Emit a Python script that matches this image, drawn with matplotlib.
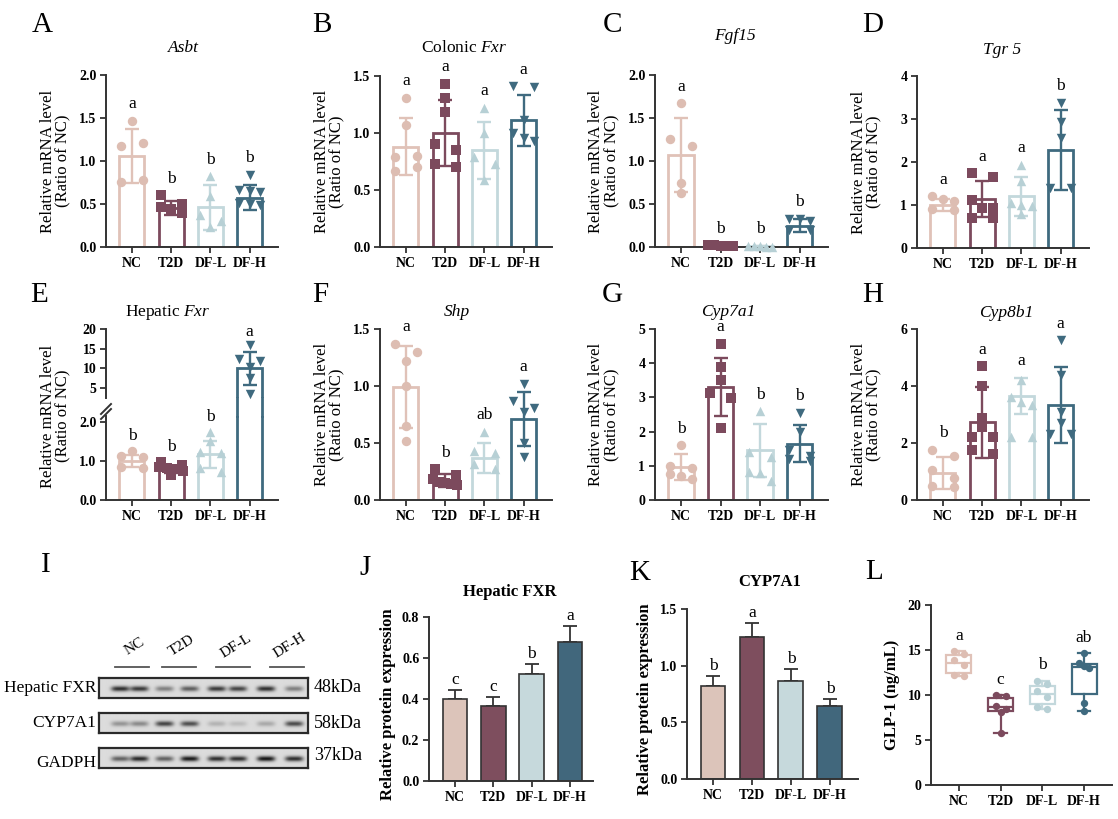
import numpy as np
import matplotlib
matplotlib.use("Agg")
import matplotlib.pyplot as plt
from matplotlib.lines import Line2D
from matplotlib import transforms

plt.rcParams['font.family'] = ['Liberation Serif', 'DejaVu Serif']
plt.rcParams['mathtext.fontset'] = 'custom'
plt.rcParams['mathtext.rm'] = 'Liberation Serif'
plt.rcParams['mathtext.it'] = 'Liberation Serif:italic'
plt.rcParams['mathtext.bf'] = 'Liberation Serif:bold'

# ---------------- data ----------------
groups = ["NC", "T2D", "DF-L", "DF-H"]

asbt_mean = [1.06, 0.45, 0.46, 0.575]
asbt_sd = [0.31, 0.08, 0.26, 0.15]
asbt_pts = [[1.47, 1.17, 1.21, 0.76, 0.78],
            [0.60, 0.50, 0.47, 0.44, 0.39],
            [0.82, 0.59, 0.37, 0.30, 0.23],
            [0.84, 0.66, 0.65, 0.64, 0.51, 0.50, 0.49]]
asbt_sig = ["a", "b", "b", "b"]

cfxr_mean = [0.88, 1.00, 0.85, 1.11]
cfxr_sd = [0.25, 0.29, 0.25, 0.22]
cfxr_pts = [[1.31, 1.07, 0.79, 0.80, 0.67, 0.70],
            [1.43, 1.31, 1.18, 0.90, 0.85, 0.73, 0.70],
            [1.22, 1.00, 0.79, 0.73, 0.59],
            [1.41, 1.40, 1.11, 1.00, 0.96, 0.93]]
cfxr_sig = ["a", "a", "a", "a"]

fgf_mean = [1.07, 0.015, 0.01, 0.25]
fgf_sd = [0.43, 0.005, 0.004, 0.07]
fgf_pts = [[1.67, 1.26, 1.17, 0.74, 0.63],
           [0.02, 0.02, 0.015, 0.01, 0.01],
           [0.01, 0.01, 0.006, 0.005, 0.005],
           [0.33, 0.33, 0.30, 0.20, 0.20]]
fgf_sig = ["a", "b", "b", "b"]

tgr_mean = [1.00, 1.14, 1.20, 2.27]
tgr_sd = [0.13, 0.42, 0.45, 0.93]
tgr_pts = [[1.20, 1.15, 1.10, 0.90, 0.88],
           [1.74, 1.65, 1.12, 0.93, 0.92, 0.70, 0.70],
           [1.94, 1.55, 1.05, 1.00, 0.97, 0.80],
           [3.37, 2.92, 2.56, 1.40, 1.40]]
tgr_sig = ["a", "a", "a", "b"]

hfxr_mean = [1.00, 0.78, 1.17, 10.0]
hfxr_sd = [0.15, 0.10, 0.35, 4.2]
hfxr_pts = [[1.25, 1.12, 1.10, 0.84, 0.82],
            [0.97, 0.90, 0.85, 0.82, 0.80, 0.75, 0.63],
            [1.74, 1.50, 1.23, 1.20, 0.82, 0.72],
            [16.0, 12.4, 12.0, 10.3, 7.5, 3.5]]
hfxr_sig = ["b", "b", "b", "a"]

shp_mean = [0.99, 0.17, 0.37, 0.71]
shp_sd = [0.36, 0.06, 0.13, 0.24]
shp_pts = [[1.37, 1.30, 1.22, 1.00, 0.65, 0.52],
           [0.27, 0.22, 0.18, 0.16, 0.15, 0.14, 0.13],
           [0.60, 0.43, 0.41, 0.32, 0.27],
           [1.02, 0.87, 0.81, 0.77, 0.50, 0.38]]
shp_sig = ["a", "b", "ab", "a"]

cyp7_mean = [0.97, 3.31, 1.45, 1.65]
cyp7_sd = [0.38, 0.85, 0.78, 0.53]
cyp7_pts = [[1.60, 1.00, 0.95, 0.75, 0.70, 0.60],
            [4.56, 3.90, 3.50, 3.12, 2.97, 2.10],
            [2.60, 1.40, 1.25, 0.81, 0.80, 0.57],
            [2.55, 2.00, 1.45, 1.30, 1.20, 1.15]]
cyp7_sig = ["b", "a", "b", "b"]

cyp8_mean = [0.96, 2.73, 3.65, 3.32]
cyp8_sd = [0.56, 1.25, 0.63, 1.33]
cyp8_pts = [[1.76, 1.53, 1.04, 0.77, 0.50, 0.45],
            [4.70, 4.00, 2.89, 2.56, 2.21, 2.20, 1.74, 1.62],
            [4.20, 3.62, 3.45, 3.33, 2.21, 2.21],
            [5.60, 4.39, 3.10, 2.69, 2.33, 2.33]]
cyp8_sig = ["b", "a", "a", "a"]

# western blot band darkness per lane (2 lanes per group)
wb_rows = ["Hepatic FXR", "CYP7A1", "GADPH"]
wb_kda = ["48kDa", "58kDa", "37kDa"]
wb_fxr = [0.85, 0.80, 0.45, 0.62, 0.80, 0.75, 0.85, 0.45]
wb_cyp = [0.35, 0.40, 0.75, 0.70, 0.20, 0.15, 0.25, 0.72]
wb_gapdh = [0.60, 0.88, 0.60, 0.95, 0.85, 0.85, 0.97, 0.85]

pfxr_mean = [0.40, 0.365, 0.523, 0.677]
pfxr_err = [0.046, 0.044, 0.046, 0.080]
pfxr_sig = ["c", "c", "b", "a"]

pcyp_mean = [0.82, 1.256, 0.865, 0.647]
pcyp_err = [0.085, 0.118, 0.105, 0.056]
pcyp_sig = ["b", "a", "b", "b"]

glp_pts = [[14.9, 14.6, 13.9, 13.3, 12.2, 12.1],
           [10.0, 9.9, 8.8, 8.5, 8.1, 5.8],
           [11.6, 11.2, 10.4, 9.8, 8.7, 8.5],
           [14.7, 13.6, 13.2, 13.0, 9.1, 8.2]]
glp_sig = ["a", "c", "b", "ab"]

# ---------------- style ----------------
edge_cols = ['#E0C2B8', '#7C4A5D', '#C3D8DC', '#3F6A7F']
fill_cols = ['#DCC4BA', '#7E4E5E', '#C6D9DC', '#41677C']
pt_cols = ['#DDBDB2', '#7C4A5D', '#B7D0D5', '#3F6A7F']
markers = ['o', 's', '^', 'v']
axcol = '#333333'
tick_fs = 10
cat_fs = 10

W, H = 1118, 819
fig = plt.figure(figsize=(W / 100, H / 100), dpi=100)


def px_ax(l, t, r, b):
    return fig.add_axes([l / W, 1 - b / H, (r - l) / W, (b - t) / H])


def ftext(x, y, s, **kw):
    fig.text(x / W, 1 - y / H, s, **kw)


def style(ax):
    for s in ['top', 'right']:
        ax.spines[s].set_visible(False)
    for s in ['left', 'bottom']:
        ax.spines[s].set_color(axcol)
        ax.spines[s].set_linewidth(1.4)
    ax.tick_params(direction='out', length=4, width=1.3, colors=axcol,
                   labelcolor='black', pad=3)


def swarm(vals, thr, half=0.27):
    vals = np.asarray(vals, float)
    order = np.argsort(-vals)
    offs = np.zeros(len(vals))
    grps, cur = [], [order[0]]
    for i in order[1:]:
        if vals[cur[0]] - vals[i] < thr:
            cur.append(i)
        else:
            grps.append(cur)
            cur = [i]
    grps.append(cur)
    for g in grps:
        n = len(g)
        if n > 1:
            h = half if n <= 3 else half + 0.04
            for k, idx in zip(np.linspace(-h, h, n), sorted(g)):
                offs[idx] = k
    return offs


def xcats(ax, xlim):
    ax.set_xlim(*xlim)
    ax.set_xticks(range(4), groups, fontweight='bold', fontsize=cat_fs)


def draw_group(ax, i, mean, sd, pts, yr):
    ax.bar(i, mean, width=0.64, facecolor='white', edgecolor=edge_cols[i],
           linewidth=2.0, zorder=2)
    ax.errorbar(i, mean, yerr=sd, color=edge_cols[i], capsize=5,
                elinewidth=1.7, capthick=1.7, zorder=3)
    offs = swarm(pts, 0.05 * yr)
    ax.scatter(i + offs, pts, marker=markers[i], s=46, color=pt_cols[i],
               linewidths=0, zorder=4, clip_on=False)


def bar_panel(ax, means, sds, pts, ymax, yticks, fmt, sig):
    style(ax)
    for i in range(4):
        draw_group(ax, i, means[i], sds[i], pts[i], ymax)
        top = max(max(pts[i]), means[i] + sds[i])
        ax.text(i, top + 0.05 * ymax, sig[i], ha='center', va='bottom',
                fontsize=12.5)
    ax.set_ylim(0, ymax)
    ax.set_yticks(yticks, [fmt.format(v) for v in yticks],
                  fontweight='bold', fontsize=tick_fs)
    xcats(ax, (-0.66, 3.72))
    ax.set_ylabel("Relative mRNA level\n(Ratio of NC)", fontsize=12,
                  linespacing=1.0)
    ax.yaxis.set_label_coords(-0.2, 0.5)


# ---------------- top and middle rows ----------------
# title: (text, mixed) - mixed titles use mathtext for the italic gene name
bar_panels = [
    ((106, 75, 278, 247), asbt_mean, asbt_sd, asbt_pts, 2.0,
     [0, 0.5, 1.0, 1.5, 2.0], "{:.1f}", asbt_sig, "A", (42, 25),
     ("Asbt", False), (183, 48)),
    ((380, 76, 552, 247), cfxr_mean, cfxr_sd, cfxr_pts, 1.5,
     [0, 0.5, 1.0, 1.5], "{:.1f}", cfxr_sig, "B", (322, 25),
     (r"Colonic $\mathit{Fxr}$", True), (464, 48)),
    ((655, 75, 828, 247), fgf_mean, fgf_sd, fgf_pts, 2.0,
     [0, 0.5, 1.0, 1.5, 2.0], "{:.1f}", fgf_sig, "C", (612, 25),
     ("Fgf15", False), (735, 36)),
    ((917, 76, 1089, 248), tgr_mean, tgr_sd, tgr_pts, 4,
     [0, 1, 2, 3, 4], "{:d}", tgr_sig, "D", (873, 25),
     ("Tgr 5", False), (1002, 50)),
    ((380, 329, 552, 500), shp_mean, shp_sd, shp_pts, 1.5,
     [0, 0.5, 1.0, 1.5], "{:.1f}", shp_sig, "F", (320, 295),
     ("Shp", False), (457, 312)),
    ((655, 329, 828, 500), cyp7_mean, cyp7_sd, cyp7_pts, 5,
     [0, 1, 2, 3, 4, 5], "{:d}", cyp7_sig, "G", (612, 295),
     ("Cyp7a1", False), (728, 312)),
    ((917, 329, 1089, 500), cyp8_mean, cyp8_sd, cyp8_pts, 6,
     [0, 2, 4, 6], "{:d}", cyp8_sig, "H", (873, 295),
     ("Cyp8b1", False), (1006, 313)),
]

for box, m, s, p, ymax, yt, fmt, sig, letter, lpos, title, tpos in bar_panels:
    ax = px_ax(*box)
    bar_panel(ax, m, s, p, ymax, yt, fmt, sig)
    ftext(*lpos, letter, fontsize=21, ha='center', va='center')
    txt, mixed = title
    ftext(*tpos, txt, fontsize=12.5, ha='center', va='center',
          fontstyle='normal' if mixed else 'italic')

# ---------------- E: broken axis ----------------
ax_lo = px_ax(106, 416, 278, 500)
ax_up = px_ax(106, 329, 278, 398)
style(ax_lo)
style(ax_up)
ax_up.spines['bottom'].set_visible(False)
ax_up.set_xticks([])
lo_max = 2.15
for i in range(3):
    draw_group(ax_lo, i, hfxr_mean[i], hfxr_sd[i], hfxr_pts[i], lo_max)
    top = max(max(hfxr_pts[i]), hfxr_mean[i] + hfxr_sd[i])
    ax_lo.text(i, top + 0.08 * lo_max, hfxr_sig[i], ha='center',
               va='bottom', fontsize=12.5)
ax_lo.bar(3, hfxr_mean[3], width=0.64, facecolor='white',
          edgecolor=edge_cols[3], linewidth=2.0, zorder=2)
draw_group(ax_up, 3, hfxr_mean[3], hfxr_sd[3], hfxr_pts[3], 17.5)
ax_up.text(3, max(hfxr_pts[3]) + 1.2, hfxr_sig[3], ha='center',
           va='bottom', fontsize=12.5, clip_on=False)
ax_lo.set_ylim(0, lo_max)
ax_lo.set_yticks([0, 1.0, 2.0], ["0.0", "1.0", "2.0"], fontweight='bold',
                 fontsize=tick_fs)
ax_up.set_ylim(2.5, 20)
ax_up.set_yticks([5, 10, 15, 20], ["5", "10", "15", "20"],
                 fontweight='bold', fontsize=tick_fs)
xcats(ax_lo, (-0.66, 3.72))
ax_up.set_xlim(-0.66, 3.72)
ax_lo.set_ylabel("Relative mRNA level\n(Ratio of NC)", fontsize=12,
                 linespacing=1.0)
ax_lo.yaxis.set_label_coords(-0.2, 1.0)
# bar edges across the gap
tr = transforms.blended_transform_factory(ax_lo.transData, fig.transFigure)
for xe in (3 - 0.32, 3 + 0.32):
    fig.add_artist(Line2D([xe, xe], [1 - 416 / H, 1 - 398 / H], transform=tr,
                          color=edge_cols[3], lw=2.0))
for dy in (0, 5):
    fig.add_artist(Line2D([101 / W, 111 / W],
                          [1 - (414 + dy) / H, 1 - (404 + dy) / H],
                          transform=fig.transFigure, color=axcol, lw=1.4))
ftext(39, 295, "E", fontsize=21, ha='center', va='center')
ftext(168, 312, r"Hepatic $\mathit{Fxr}$", fontsize=12.5, ha='center',
      va='center')

# ---------------- I: western blot ----------------
ftext(46, 565, "I", fontsize=21, ha='center', va='center')
lane_x = [21, 40, 65, 90, 117, 138, 166, 194]
blot_w = 209
for k, (row, kda, dark, y0) in enumerate(zip(
        wb_rows, wb_kda, [wb_fxr, wb_cyp, wb_gapdh], [678, 713, 748])):
    ax = px_ax(99, y0, 99 + blot_w, y0 + 20)
    xx = np.arange(blot_w * 2) / 2
    yy = np.arange(40) / 2
    img = np.full((40, blot_w * 2), 0.86)
    for cx, d in zip(lane_x, dark):
        px = np.exp(-((xx - cx) / 9.0) ** 4)
        py = np.exp(-((yy - 10.5) / 2.6) ** 2)
        img -= 0.8 * d * np.outer(py, px)
    ax.imshow(img, cmap='gray', vmin=0, vmax=1, aspect='auto',
              extent=(0, blot_w, 20, 0), interpolation='bilinear')
    ax.set_xticks([])
    ax.set_yticks([])
    for s in ax.spines.values():
        s.set_linewidth(1.6)
        s.set_color('#2a2a2a')
    ftext(96, y0 + 10 + (5 if k == 2 else 0), row, fontsize=12.5,
          ha='right', va='center')
    ftext(314, y0 + 10 - (2 if k == 2 else 0), kda, fontsize=13,
          ha='left', va='center')
grp_lbl_x = [135, 182, 236, 290]
for g, cx in zip(groups, grp_lbl_x):
    ftext(cx, 646, g, fontsize=11, rotation=32, ha='center', va='center')
    fig.add_artist(Line2D([(cx - 20) / W, (cx + 14) / W],
                          [1 - 667 / H, 1 - 667 / H],
                          transform=fig.transFigure, color='#555555', lw=1.3))


# ---------------- J, K: protein bars ----------------
def protein_panel(box, means, errs, sig, ymax, yticks, xlim, letter, lpos,
                  title, tpos):
    ax = px_ax(*box)
    style(ax)
    for i in range(4):
        ax.bar(i, means[i], width=0.64, color=fill_cols[i], edgecolor=axcol,
               linewidth=1.2, zorder=2)
        ax.errorbar(i, means[i], yerr=[[0], [errs[i]]], color=axcol,
                    capsize=5, elinewidth=1.3, capthick=1.3, zorder=1)
        ax.text(i, means[i] + errs[i] + 0.012 * ymax, sig[i], ha='center',
                va='bottom', fontsize=12.5)
    ax.set_ylim(0, ymax)
    ax.set_yticks(yticks, ["{:.1f}".format(v) for v in yticks],
                  fontweight='bold', fontsize=tick_fs)
    xcats(ax, xlim)
    ax.set_ylabel("Relative protein expression", fontsize=12,
                  fontweight='bold')
    ax.yaxis.set_label_coords(-0.2, 0.47)
    ftext(*lpos, letter, fontsize=21, ha='center', va='center')
    ftext(*tpos, title, fontsize=12, fontweight='bold', ha='center',
          va='center')


protein_panel((429, 617, 593, 781), pfxr_mean, pfxr_err, pfxr_sig, 0.8,
              [0, 0.2, 0.4, 0.6, 0.8], (-0.68, 3.6), "J", (365, 568),
              "Hepatic FXR", (510, 592))
protein_panel((687, 609, 858, 779), pcyp_mean, pcyp_err, pcyp_sig, 1.5,
              [0, 0.5, 1.0, 1.5], (-0.667, 3.72), "K", (640, 573),
              "CYP7A1", (770, 582))

# ---------------- L: GLP-1 box plot ----------------
axl = px_ax(931, 605, 1112, 785)
style(axl)
for i in range(4):
    axl.boxplot([glp_pts[i]], positions=[i], widths=0.6, whis=(0, 100),
                showfliers=False, patch_artist=True,
                boxprops=dict(facecolor='white', edgecolor=edge_cols[i],
                              linewidth=1.6),
                medianprops=dict(color=edge_cols[i], linewidth=1.6),
                whiskerprops=dict(color=edge_cols[i], linewidth=1.6),
                capprops=dict(color=edge_cols[i], linewidth=1.6),
                capwidths=0.3)
    offs = swarm(glp_pts[i], 0.6, half=0.12)
    axl.scatter(i + offs, glp_pts[i], s=28, color=pt_cols[i], linewidths=0,
                zorder=4)
    axl.text(i, max(glp_pts[i]) + 0.8, glp_sig[i], ha='center', va='bottom',
             fontsize=12.5)
axl.set_ylim(0, 20)
axl.set_yticks([0, 5, 10, 15, 20], ["0", "5", "10", "15", "20"],
               fontweight='bold', fontsize=tick_fs)
xcats(axl, (-0.67, 3.67))
axl.set_ylabel("GLP-1 (ng/mL)", fontsize=12, fontweight='bold')
axl.yaxis.set_label_coords(-0.17, 0.5)
ftext(874, 572, "L", fontsize=21, ha='center', va='center')

fig.savefig("out.png", dpi=100, facecolor='white')
